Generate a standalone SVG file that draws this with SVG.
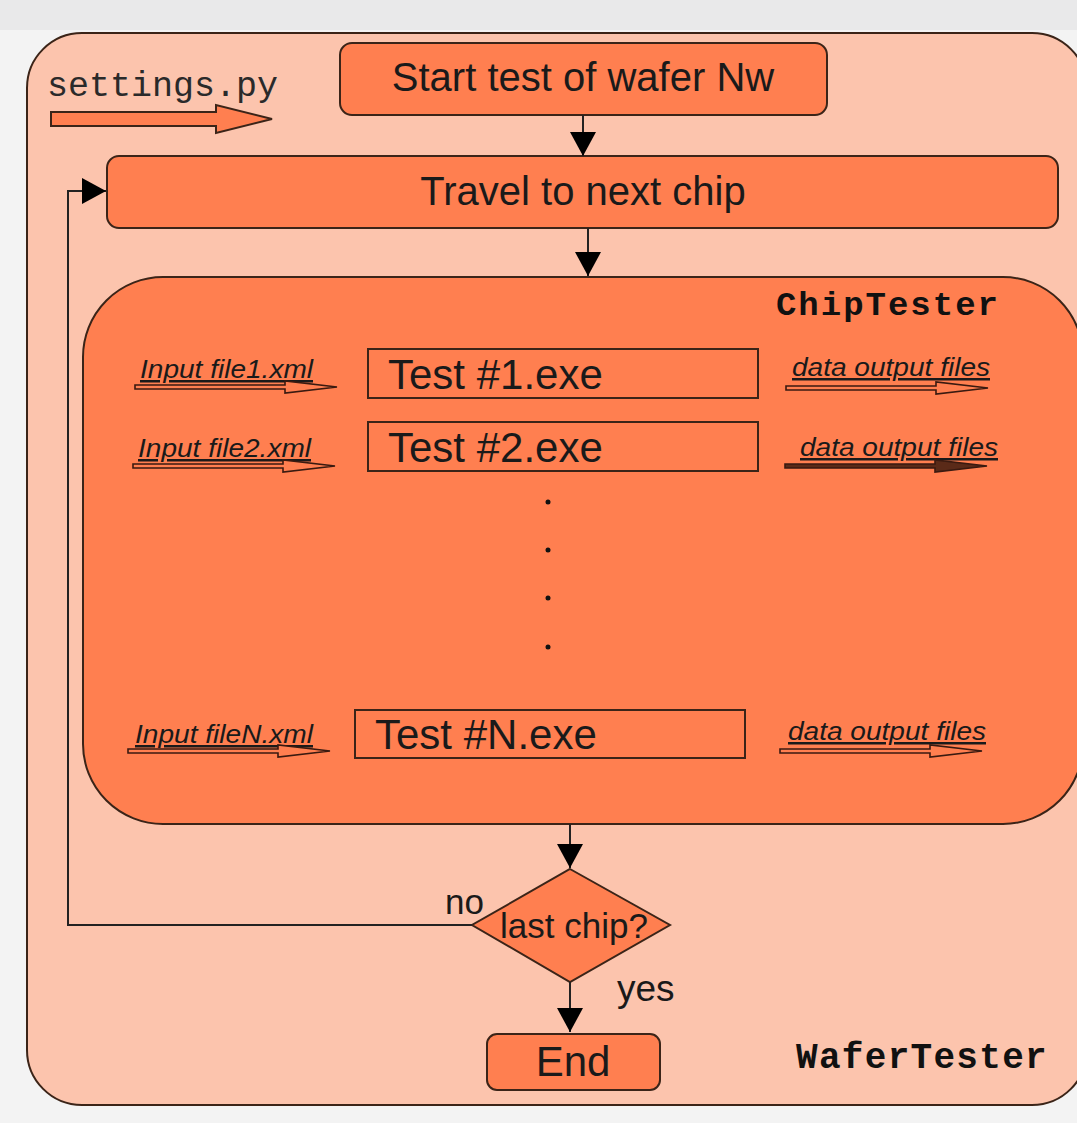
<svg xmlns="http://www.w3.org/2000/svg" width="1077" height="1123" viewBox="0 0 1077 1123">
<style>
.box{fill:#ff7f50;stroke:#3b2418;stroke-width:2}
.sans{font-family:"Liberation Sans",Arial,sans-serif;fill:#1a1a1a}
.mono{font-family:"Liberation Mono","DejaVu Sans Mono",monospace;font-weight:bold;fill:#111}
.lbl{font-family:"Liberation Sans",Arial,sans-serif;font-style:italic;font-size:25px;fill:#1a1a1a;text-decoration:underline}
.conn{fill:none;stroke:#222;stroke-width:2}
.thin{fill:#ff7f50;stroke:#3a1a10;stroke-width:1.6}
</style>
<defs>
<marker id="ahb" viewBox="0 0 24 26" markerWidth="24" markerHeight="26" refX="24" refY="13" orient="auto" markerUnits="userSpaceOnUse">
<path d="M0,0 L24,13 L0,26 Z" fill="#000"/>
</marker>
</defs>
<rect x="0" y="0" width="1077" height="1123" fill="#f3f3f3"/>
<rect x="0" y="0" width="1077" height="30" fill="#e9e9ea"/>

<g id="WaferTester">
<rect x="27" y="33" width="1060" height="1072" rx="55" fill="#fcc4ad" stroke="#3b2418" stroke-width="2"/>
<text class="mono" x="1048" y="1068" font-size="36" text-anchor="end" letter-spacing="1.3">WaferTester</text>
</g>

<g id="settings">
<text x="47" y="96" font-family="'Liberation Mono','DejaVu Sans Mono',monospace" font-size="35" fill="#2a2a2a">settings.py</text>
<polygon class="box" points="51,112 216,112 216,105 272,119 216,133 216,126 51,126"/>
</g>

<g id="start">
<rect class="box" x="340" y="43" width="487" height="72" rx="12"/>
<text class="sans" x="583" y="91" font-size="40" text-anchor="middle">Start test of wafer Nw</text>
</g>

<g id="travel">
<rect class="box" x="107" y="156" width="951" height="72" rx="12"/>
<text class="sans" x="583" y="205" font-size="40" text-anchor="middle">Travel to next chip</text>
</g>

<g id="ChipTester">
<rect class="box" x="83" y="277" width="1000" height="547" rx="80"/>
<text class="mono" x="1000" y="315" font-size="34" text-anchor="end" letter-spacing="2">ChipTester</text>
</g>

<g id="test1">
<rect class="box" x="368" y="349" width="390" height="49"/>
<text class="sans" x="388" y="389" font-size="42">Test #1.exe</text>
</g>
<g id="test2">
<rect class="box" x="368" y="422" width="390" height="49"/>
<text class="sans" x="388" y="462" font-size="42">Test #2.exe</text>
</g>
<g id="testN">
<rect class="box" x="355" y="710" width="390" height="48"/>
<text class="sans" x="375" y="749" font-size="42">Test #N.exe</text>
</g>

<g id="dots" fill="#111">
<circle cx="548" cy="502" r="2.5"/>
<circle cx="548" cy="550" r="2.5"/>
<circle cx="548" cy="598" r="2.5"/>
<circle cx="548" cy="647" r="2.5"/>
</g>

<g id="inputs">
<text class="lbl" x="140" y="378" textLength="173" lengthAdjust="spacingAndGlyphs">Input file1.xml</text>
<polygon class="thin" points="135,385 285,385 285,381 337,387 285,393 285,389 135,389"/>
<text class="lbl" x="138" y="457" textLength="173" lengthAdjust="spacingAndGlyphs">Input file2.xml</text>
<polygon class="thin" points="133,464 283,464 283,460 335,466 283,472 283,468 133,468"/>
<text class="lbl" x="135" y="743" textLength="178" lengthAdjust="spacingAndGlyphs">Input fileN.xml</text>
<polygon class="thin" points="128,749 278,749 278,745 330,751 278,757 278,753 128,753"/>
</g>

<g id="outputs">
<text class="lbl" x="792" y="376" textLength="198" lengthAdjust="spacingAndGlyphs">data output files</text>
<polygon class="thin" points="786,386 936,386 936,382 988,388 936,394 936,390 786,390"/>
<text class="lbl" x="800" y="456" textLength="198" lengthAdjust="spacingAndGlyphs">data output files</text>
<polygon class="thin" points="785,464 935,464 935,460 987,466 935,472 935,468 785,468" style="fill:#5a2a18"/>
<text class="lbl" x="788" y="740" textLength="198" lengthAdjust="spacingAndGlyphs">data output files</text>
<polygon class="thin" points="780,749 930,749 930,745 982,751 930,757 930,753 780,753"/>
</g>

<g id="decision">
<polygon class="box" points="570,869 670,925 570,982 472,925"/>
<text class="sans" x="574" y="938" font-size="35" text-anchor="middle">last chip?</text>
</g>

<g id="end">
<rect class="box" x="487" y="1034" width="173" height="56" rx="10"/>
<text class="sans" x="573" y="1076" font-size="42" text-anchor="middle">End</text>
</g>

<g id="connectors">
<line class="conn" x1="583" y1="115" x2="583" y2="156" marker-end="url(#ahb)"/>
<line class="conn" x1="588" y1="228" x2="588" y2="276" marker-end="url(#ahb)"/>
<line class="conn" x1="570" y1="824" x2="570" y2="868" marker-end="url(#ahb)"/>
<line class="conn" x1="570" y1="982" x2="570" y2="1032" marker-end="url(#ahb)"/>
<polyline class="conn" points="472,925 68,925 68,191 106,191" marker-end="url(#ahb)"/>
<text class="sans" x="445" y="914" font-size="35">no</text>
<text class="sans" x="617" y="1001" font-size="37">yes</text>
</g>
</svg>
